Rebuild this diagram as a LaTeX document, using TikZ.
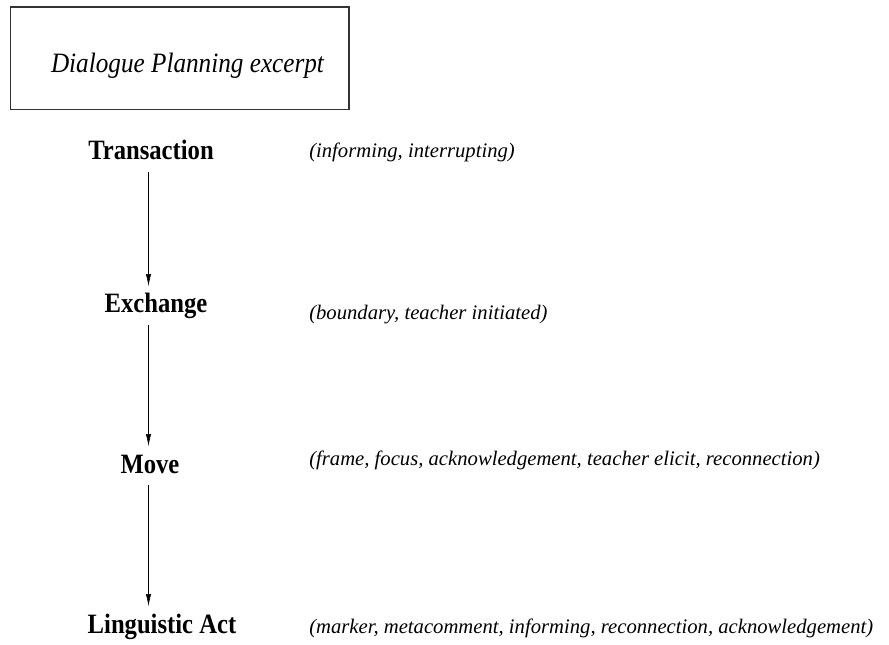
\documentclass[tikz,border=0pt]{standalone}
\usepackage{fontspec}
\setmainfont{Liberation Serif}
\newfontfamily\lvlfont{Liberation Serif}[FakeStretch=0.88]
\newfontfamily\boxfont{Liberation Serif}[FakeStretch=0.9]
\usetikzlibrary{arrows.meta}
\begin{document}
\begin{tikzpicture}[
  x=0.75pt, y=-0.75pt,
  level/.style={font=\lvlfont\bfseries\fontsize{21}{25}\selectfont, anchor=base, inner xsep=2pt, inner ysep=6pt, text height=14pt, text depth=3pt},
  note/.style={font=\itshape\fontsize{15.5}{19}\selectfont, anchor=base west, inner sep=0pt},
  >={Latex[length=9pt,width=4pt]}
]
\useasboundingbox (0,0) rectangle (889,645);
\node[draw=black!80, line width=1pt, minimum width=254pt, minimum height=77pt] (frame) at (179.5,58.5) {};
\node[font=\boxfont\itshape\fontsize{21}{25}\selectfont, anchor=base] (title) at (187.5,73) {Dialogue Planning excerpt};
\coordinate (spine) at (148.5,0);
\node[level] (tr) at (151,160) {Transaction};
\node[level] (ex) at (156,313) {Exchange};
\node[level] (mv) at (150,473) {Move};
\node[level] (la) at (162,633) {Linguistic Act};
\node[note] (trn) at (309,158) {(informing, interrupting)};
\node[note] (exn) at (309,320) {(boundary, teacher initiated)};
\node[note] (mvn) at (309,465) {(frame, focus, acknowledgement, teacher elicit, reconnection)};
\node[note] (lan) at (309,633) {(marker, metacomment, informing, reconnection, acknowledgement)};
\draw[->] (tr.south -| spine) -- (ex.north -| spine);
\draw[->] (ex.south -| spine) -- (mv.north -| spine);
\draw[->] (mv.south -| spine) -- (la.north -| spine);
\end{tikzpicture}
\end{document}
